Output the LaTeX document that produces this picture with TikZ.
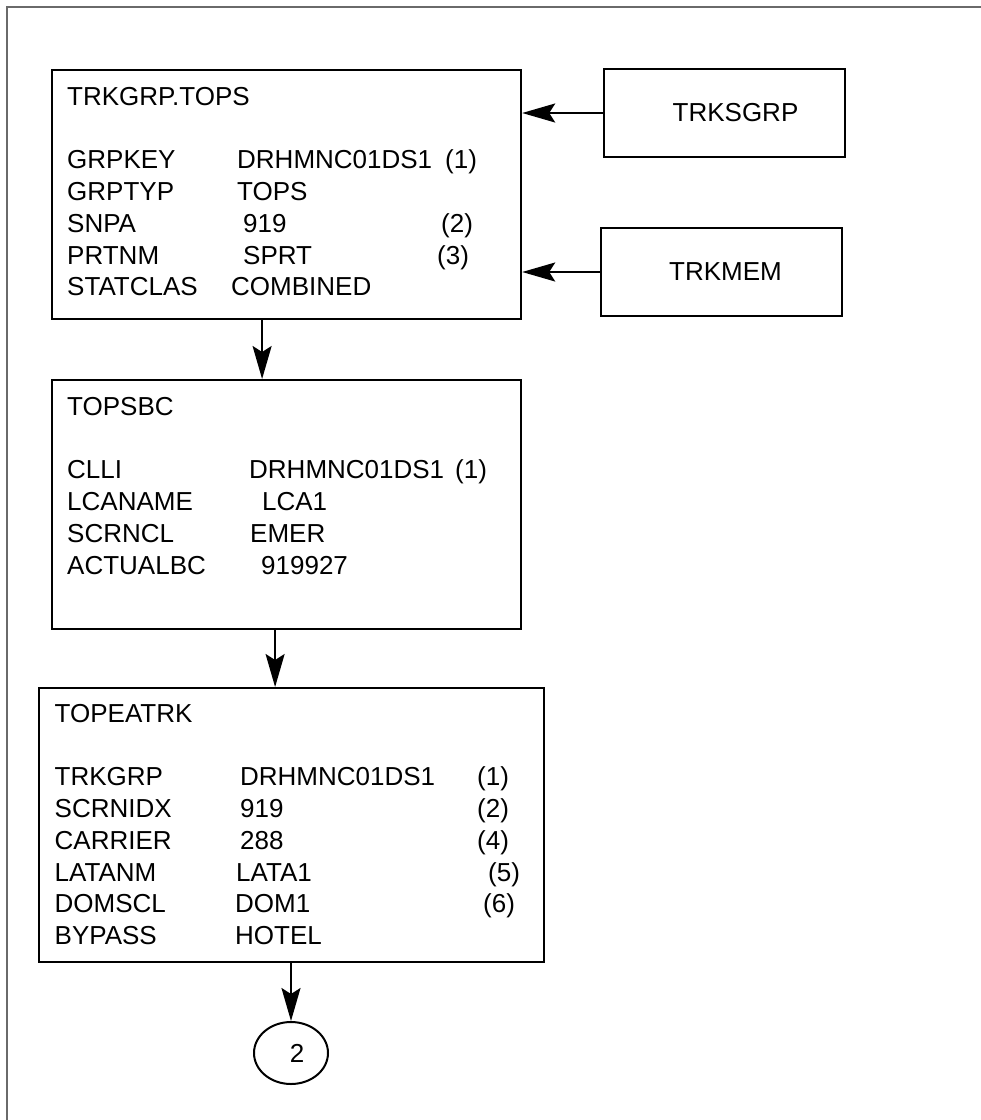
\documentclass[tikz,border=0pt]{standalone}
\usepackage{fontspec}
\setmainfont{Liberation Sans}
\usepackage{tikz}
\usetikzlibrary{arrows.meta,positioning,shapes,calc}
\definecolor{ink}{HTML}{000000}
\definecolor{framegray}{HTML}{6A6A6A}
\newcommand{\fieldrow}[5]{\makebox[#1pt][l]{#2}\makebox[#3pt][l]{#4}#5}
\tikzset{
  tablecard/.style={
    draw=ink, line width=2.2pt, rectangle,
    inner sep=0pt, anchor=north west
  },
  namecard/.style={
    draw=ink, line width=2.2pt, rectangle, inner sep=0pt,
    minimum width=241pt, minimum height=88pt,
    font=\fontsize{26}{31.8}\selectfont
  },
  fieldtext/.style={
    inner sep=0pt, anchor=base west,
    font=\fontsize{26}{31.8}\selectfont
  },
  pagebadge/.style={
    draw=ink, line width=2pt, ellipse, inner sep=0pt,
    minimum width=74pt, minimum height=62pt,
    font=\fontsize{26}{31.8}\selectfont
  },
  linkarrow/.style={draw=ink, line width=2pt, -{Stealth[length=33pt,width=19pt,inset=6pt]}}
}
\begin{document}
\begin{tikzpicture}[x=1pt,y=-1pt]
  \useasboundingbox (0,0) rectangle (981,1120);
  \draw[framegray, line width=1.5pt] (7,1120) -- (7,7) -- (981,7);

  % tables
  \node[tablecard, minimum width=469pt, minimum height=249pt] (tops) at (51,69) {};
  \node[fieldtext] (topstext) at (67,105) {%
    \begin{tabular}[t]{@{}l@{}}
      TRKGRP.TOPS\\
      \\
      \fieldrow{170}{GRPKEY}{208}{DRHMNC01DS1}{(1)}\\
      \fieldrow{170}{GRPTYP}{0}{TOPS}{}\\
      \fieldrow{176}{SNPA}{198}{919}{(2)}\\
      \fieldrow{176}{PRTNM}{194}{SPRT}{(3)}\\
      \fieldrow{164}{STATCLAS}{0}{COMBINED}{}
    \end{tabular}};

  \node[tablecard, minimum width=469pt, minimum height=249pt] (topsbc) at (51,379) {};
  \node[fieldtext] (topsbctext) at (67,415) {%
    \begin{tabular}[t]{@{}l@{}}
      TOPSBC\\
      \\
      \fieldrow{182}{CLLI}{206}{DRHMNC01DS1}{(1)}\\
      \fieldrow{195}{LCANAME}{0}{LCA1}{}\\
      \fieldrow{183}{SCRNCL}{0}{EMER}{}\\
      \fieldrow{194}{ACTUALBC}{0}{919927}{}
    \end{tabular}};

  \node[tablecard, minimum width=505pt, minimum height=274pt] (topeatrk) at (38,687) {};
  \node[fieldtext] (topeatrktext) at (54.5,722) {%
    \begin{tabular}[t]{@{}l@{}}
      TOPEATRK\\
      \\
      \fieldrow{185.5}{TRKGRP}{237}{DRHMNC01DS1}{(1)}\\
      \fieldrow{185.5}{SCRNIDX}{237}{919}{(2)}\\
      \fieldrow{185.5}{CARRIER}{237}{288}{(4)}\\
      \fieldrow{181.5}{LATANM}{252}{LATA1}{(5)}\\
      \fieldrow{180.5}{DOMSCL}{248}{DOM1}{(6)}\\
      \fieldrow{180.5}{BYPASS}{0}{HOTEL}{}
    \end{tabular}};

  % side tables
  \node[namecard] (trksgrp) at (724.5,113) {\hspace*{22pt}TRKSGRP};
  \node[namecard] (trkmem) at (721.5,272) {\hspace*{8pt}TRKMEM};

  \node[pagebadge] (page2) at (291,1053) {\hspace*{12pt}2};

  % connectors
  \draw[linkarrow] (trksgrp.west) -- (trksgrp.west -| tops.east);
  \draw[linkarrow] (trkmem.west) -- (trkmem.west -| tops.east);
  \coordinate (drop1) at ([xshift=-24.5pt]tops.south);
  \draw[linkarrow] (drop1) -- (drop1 |- topsbc.north);
  \coordinate (drop2) at ([xshift=-11.5pt]topsbc.south);
  \draw[linkarrow] (drop2) -- (drop2 |- topeatrk.north);
  \draw[linkarrow] (topeatrk.south -| page2.north) -- (page2.north);
\end{tikzpicture}
\end{document}
